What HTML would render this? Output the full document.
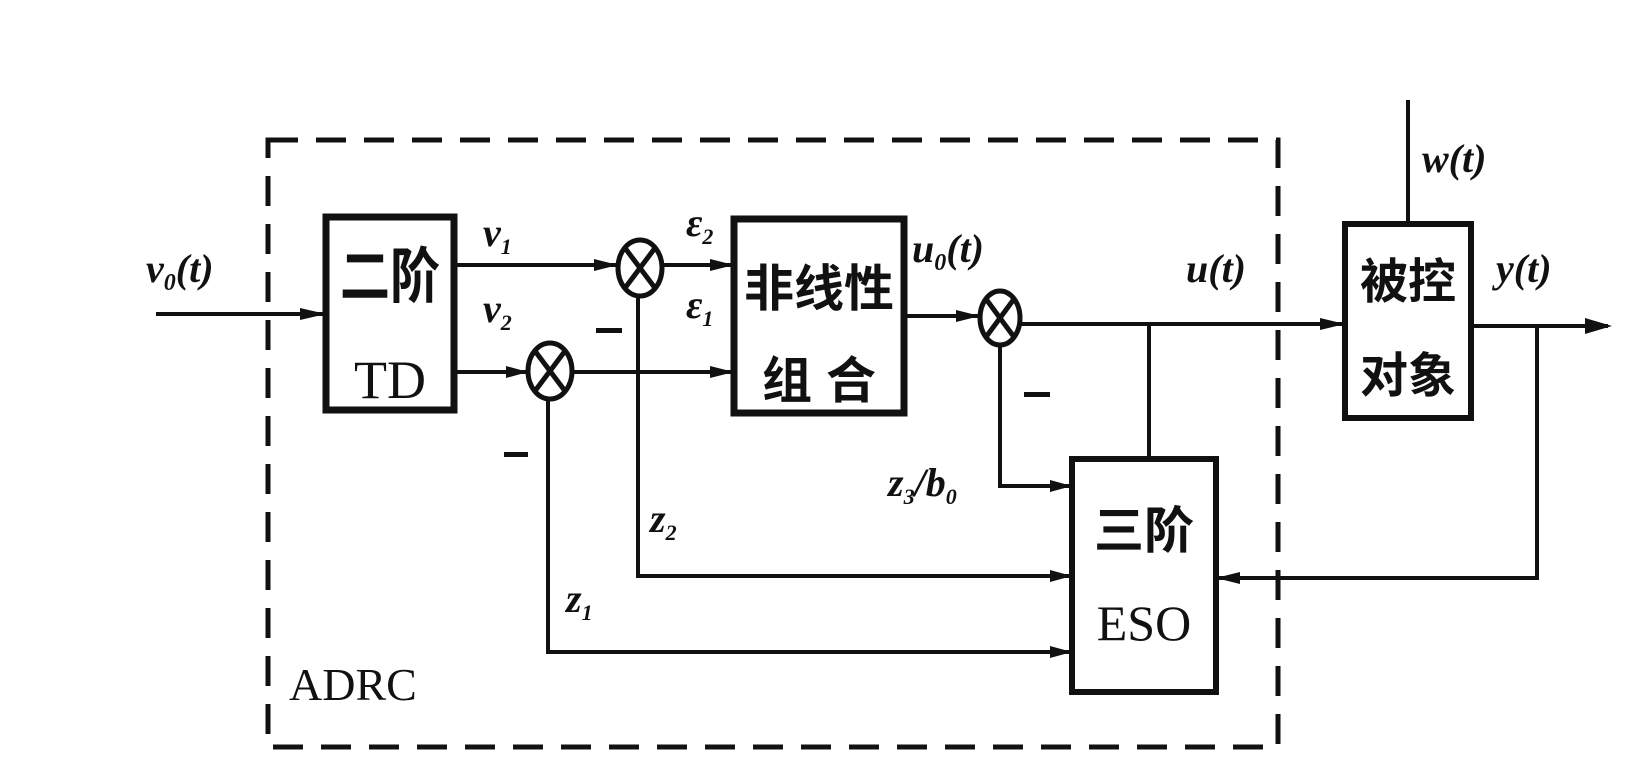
<!DOCTYPE html>
<html><head><meta charset="utf-8"><style>
html,body{margin:0;padding:0;background:#fff;}
svg{display:block;}
text{font-family:"Liberation Serif","Noto Serif CJK SC",serif;fill:#111;}
.cj{font-family:"Liberation Sans","Noto Sans CJK SC",sans-serif;font-weight:bold;}
</style></head><body>
<svg width="1648" height="781" viewBox="0 0 1648 781" xmlns="http://www.w3.org/2000/svg">
<g stroke="#111" fill="none">
<!-- dashed ADRC box -->
<rect x="268" y="140" width="1010" height="607" stroke-width="5" stroke-dasharray="30,18"/>
<!-- blocks -->
<rect x="326" y="217" width="128" height="193" stroke-width="7"/>
<rect x="734" y="219" width="170" height="194" stroke-width="7"/>
<rect x="1345" y="224" width="126" height="194" stroke-width="6"/>
<rect x="1072" y="459" width="144" height="233" stroke-width="6"/>
<!-- summing junctions -->
<g stroke-width="5">
<ellipse cx="640" cy="268" rx="22" ry="28"/>
<path d="M625 248 L655 288 M655 248 L625 288"/>
<ellipse cx="550" cy="371" rx="22" ry="28"/>
<path d="M535 351 L565 391 M565 351 L535 391"/>
<ellipse cx="1000" cy="318" rx="20" ry="27"/>
<path d="M986 299 L1014 337 M1014 299 L986 337"/>
</g>
<!-- lines -->
<g stroke-width="4">
<path d="M156 314 H326"/>
<path d="M454 265 H618"/>
<path d="M662 265 H734"/>
<path d="M454 372 H528"/>
<path d="M572 372 H734"/>
<path d="M904 316 H980"/>
<path d="M1020 324 H1345"/>
<path d="M1471 326 H1608"/>
<path d="M1408 100 V224"/>
<path d="M1537 326 V578 H1216"/>
<path d="M1149 324 V459"/>
<path d="M1000 345 V486 H1072"/>
<path d="M1072 576 H638 V296"/>
<path d="M1072 652 H548 V399"/>
</g>
</g>
<!-- arrowheads -->
<g fill="#111">
<polygon points="326,314 300,308 300,320"/>
<polygon points="618,265 594,259 594,271"/>
<polygon points="734,265 710,259 710,271"/>
<polygon points="528,372 506,366 506,378"/>
<polygon points="734,372 710,366 710,378"/>
<polygon points="980,316 956,310 956,322"/>
<polygon points="1345,324 1320,318 1320,330"/>
<polygon points="1612,326 1585,318 1585,334"/>
<polygon points="1216,578 1240,572 1240,584"/>
<polygon points="1072,486 1050,480 1050,492"/>
<polygon points="1072,576 1050,570 1050,582"/>
<polygon points="1072,652 1050,646 1050,658"/>
<rect x="596" y="328" width="26" height="5"/>
<rect x="504" y="452" width="24" height="5"/>
<rect x="1024" y="392" width="26" height="5"/>
</g>
<!-- block text -->
<text class="cj" x="390" y="298" font-size="50" text-anchor="middle" transform="translate(0,-60) scale(1,1.2)">二阶</text>
<text x="390" y="398" font-size="54" text-anchor="middle">TD</text>
<text class="cj" x="819" y="306" font-size="50" text-anchor="middle">非线性</text>
<text class="cj" x="819" y="398" font-size="50" text-anchor="middle">组 合</text>
<text class="cj" x="1408" y="298" font-size="48" text-anchor="middle">被控</text>
<text class="cj" x="1408" y="392" font-size="48" text-anchor="middle">对象</text>
<text class="cj" x="1144" y="548" font-size="50" text-anchor="middle">三阶</text>
<text x="1144" y="640" font-size="50" text-anchor="middle">ESO</text>
<text x="289" y="700" font-size="46">ADRC</text>
<!-- signal labels -->
<g font-style="italic" font-weight="bold" font-size="40">
<text x="146" y="282">v<tspan font-size="24" dy="8">0</tspan><tspan dy="-8">(t)</tspan></text>
<text x="483" y="246">v<tspan font-size="22" dy="8">1</tspan></text>
<text x="483" y="322">v<tspan font-size="22" dy="8">2</tspan></text>
<text x="686" y="236">ε<tspan font-size="22" dy="8">2</tspan></text>
<text x="686" y="318">ε<tspan font-size="22" dy="8">1</tspan></text>
<text x="912" y="262">u<tspan font-size="24" dy="8">0</tspan><tspan dy="-8">(t)</tspan></text>
<text x="1186" y="282">u(t)</text>
<text x="1422" y="172">w(t)</text>
<text x="1496" y="282">y(t)</text>
<text x="888" y="496">z<tspan font-size="22" dy="8">3</tspan><tspan dy="-8">/b</tspan><tspan font-size="22" dy="8">0</tspan></text>
<text x="650" y="532">z<tspan font-size="22" dy="8">2</tspan></text>
<text x="566" y="612">z<tspan font-size="22" dy="8">1</tspan></text>
</g>
</svg>
</body></html>
